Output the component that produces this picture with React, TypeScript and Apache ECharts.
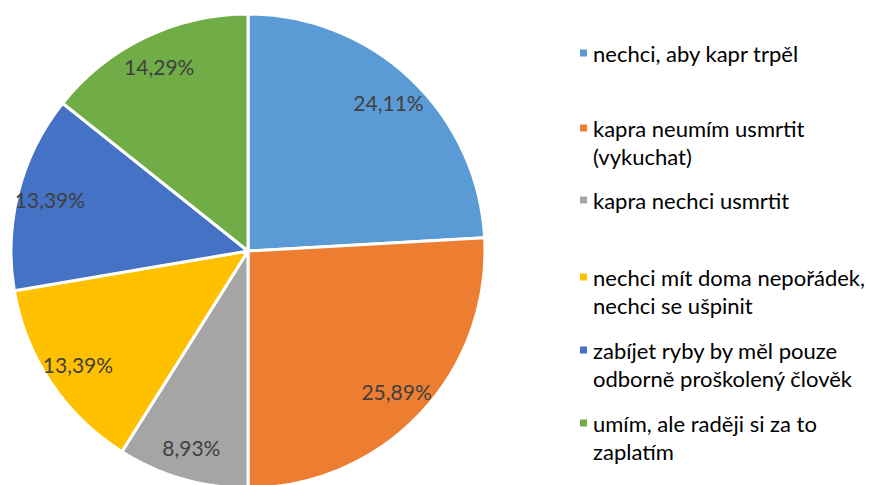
import React, { useEffect, useRef } from "react";
import * as echarts from "echarts";

const categories = [
  "nechci, aby kapr trpěl",
  "kapra neumím usmrtit (vykuchat)",
  "kapra nechci usmrtit",
  "nechci mít doma nepořádek, nechci se ušpinit",
  "zabíjet ryby by měl pouze odborně proškolený člověk",
  "umím, ale raději si za to zaplatím",
];
const legendText = [
  "nechci, aby kapr trpěl",
  "kapra neumím usmrtit\n(vykuchat)",
  "kapra nechci usmrtit",
  "nechci mít doma nepořádek,\nnechci se ušpinit",
  "zabíjet ryby by měl pouze\nodborně proškolený člověk",
  "umím, ale raději si za to\nzaplatím",
];
const values = [24.11, 25.89, 8.93, 13.39, 13.39, 14.29];
const colors = ["#5B9BD5", "#ED7D31", "#A5A5A5", "#FFC000", "#4472C4", "#70AD47"];
const legendLineY = [53, 128, 200, 277, 350, 423];

const FONT = "Lato";
const LEGEND_SIZE = 22;
const LINE_H = 28;

export default function App() {
  const ref = useRef<HTMLDivElement>(null);
  useEffect(() => {
    const chart = echarts.init(ref.current!, null, { renderer: "svg" });
    const data = categories.map((name, i) => ({
      name,
      value: values[i],
      itemStyle: { color: colors[i] },
    }));
    const legends = categories.map((name, i) => {
      const twoLine = legendText[i].indexOf("\n") >= 0;
      // two-line entries get a leading empty line so the first line sits beside the marker
      const text = twoLine ? "\n" + legendText[i] : legendText[i];
      const top = twoLine ? legendLineY[i] - LINE_H * 1.5 : legendLineY[i] - LINE_H / 2;
      return {
        show: true,
        orient: "vertical",
        left: 578,
        top,
        padding: 0,
        data: [name],
        itemWidth: 9,
        itemHeight: 9,
        selectedMode: false,
        icon: "rect",
        formatter: () => text,
        textStyle: {
          fontFamily: FONT,
          fontSize: LEGEND_SIZE,
          lineHeight: LINE_H,
          color: "#000000",
        },
      };
    });
    chart.setOption({
      animation: false,
      color: colors,
      legend: legends,
      series: [
        {
          type: "pie",
          center: [248, 251],
          radius: [0, 237],
          startAngle: 90,
          clockwise: true,
          silent: true,
          label: { show: false },
          labelLine: { show: false },
          itemStyle: { borderColor: "#ffffff", borderWidth: 3 },
          emphasis: { disabled: true },
          data,
        },
        {
          type: "pie",
          center: [248, 251],
          radius: [166, 237],
          startAngle: 90,
          clockwise: true,
          silent: true,
          legendHoverLink: false,
          label: {
            show: true,
            position: "inside",
            formatter: (p: any) => p.value.toFixed(2).replace(".", ",") + "%",
            fontFamily: FONT,
            fontSize: 21,
            color: "#404040",
          },
          labelLine: { show: false },
          itemStyle: { color: "rgba(0,0,0,0)", borderWidth: 0 },
          emphasis: { disabled: true },
          data: categories.map((name, i) => ({ name, value: values[i] })),
        },
      ],
    });
    return () => chart.dispose();
  }, []);
  return (
    <div
      ref={ref}
      style={{ position: "fixed", left: 0, top: 0, width: 874, height: 485, background: "#ffffff" }}
    />
  );
}
